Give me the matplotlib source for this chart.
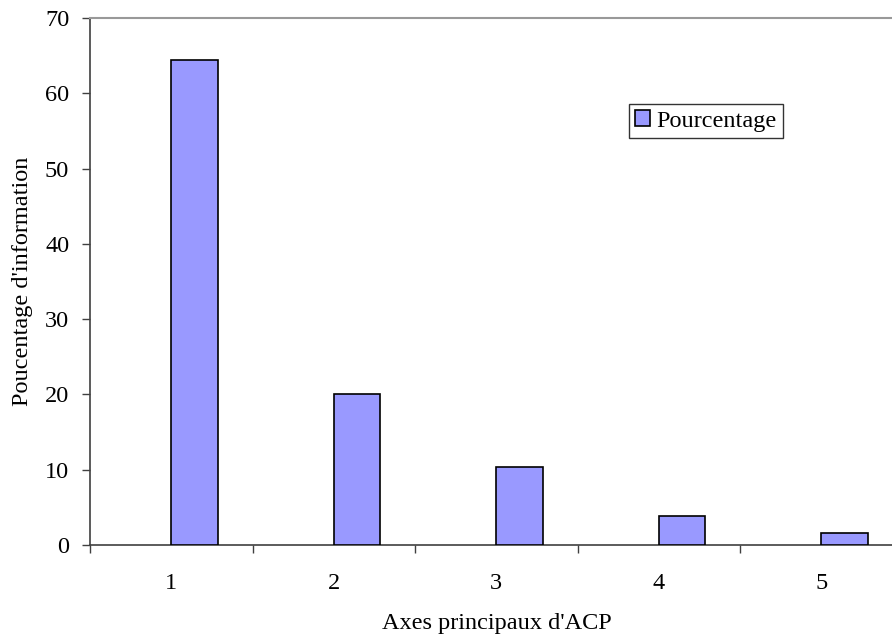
import matplotlib
matplotlib.use("Agg")
import matplotlib.pyplot as plt

# Share of information carried by each principal axis of the PCA
axes_labels = ["1", "2", "3", "4", "5"]
pourcentage = [64.4, 20.0, 10.3, 3.8, 1.6]
y_ticks = [0, 10, 20, 30, 40, 50, 60, 70]

plt.rcParams["font.family"] = ["Liberation Serif", "DejaVu Serif"]
FS = 17.5

W, H = 892, 637
fig = plt.figure(figsize=(W / 100, H / 100), dpi=100)
# plot area: left edge at x=90 px, bottom at y=545 px, top at y=18 px;
# the category axis runs slightly past the right edge of the figure
left, right, top, bottom = 90, 902.5, 18, 545
ax = fig.add_axes([left / W, (H - bottom) / H, (right - left) / W, (bottom - top) / H])

n = len(axes_labels)
pos = list(range(1, n + 1))
ax.bar(pos, pourcentage, width=0.285, align="edge", color="#9999ff",
       edgecolor="black", linewidth=1.2, label="Pourcentage", zorder=3)

ax.set_xlim(0.5, n + 0.5)
ax.set_ylim(0, 70)
ax.set_yticks(y_ticks)
ax.set_yticklabels([str(t) for t in y_ticks], fontsize=FS)

# category labels between boundary ticks
ax.set_xticks([i + 0.5 for i in range(n + 1)])
ax.set_xticklabels([])
ax.set_xticks(pos, minor=True)
ax.set_xticklabels(axes_labels, minor=True, fontsize=FS)
ax.tick_params(axis="x", which="major", direction="out", length=6, width=1, color="#404040")
ax.tick_params(axis="x", which="minor", length=0, pad=20)
ax.tick_params(axis="y", direction="out", length=6, width=1, color="#404040", pad=9)

ax.spines["right"].set_visible(False)
ax.spines["left"].set_color("#404040")
ax.spines["bottom"].set_color("#404040")
ax.spines["left"].set_linewidth(1.2)
ax.spines["bottom"].set_linewidth(1.2)
ax.spines["top"].set_color("#999999")
ax.spines["top"].set_linewidth(1.5)

fig.text(23 / W, 1 - 281 / H, "Poucentage d'information", rotation=90,
         ha="center", va="center", fontsize=FS)
fig.text(497 / W, 1 - 629 / H, "Axes principaux d'ACP", ha="center", va="baseline",
         fontsize=FS)

leg = fig.legend(loc="upper left", bbox_to_anchor=(629 / W, 1 - 104 / H),
                 fontsize=FS, frameon=True, fancybox=False, handlelength=0.62,
                 handleheight=0.62, handletextpad=0.25, borderpad=0.25,
                 borderaxespad=0)
leg.get_frame().set_edgecolor("black")
leg.get_frame().set_linewidth(1.0)

fig.savefig("out.png", dpi=100)
